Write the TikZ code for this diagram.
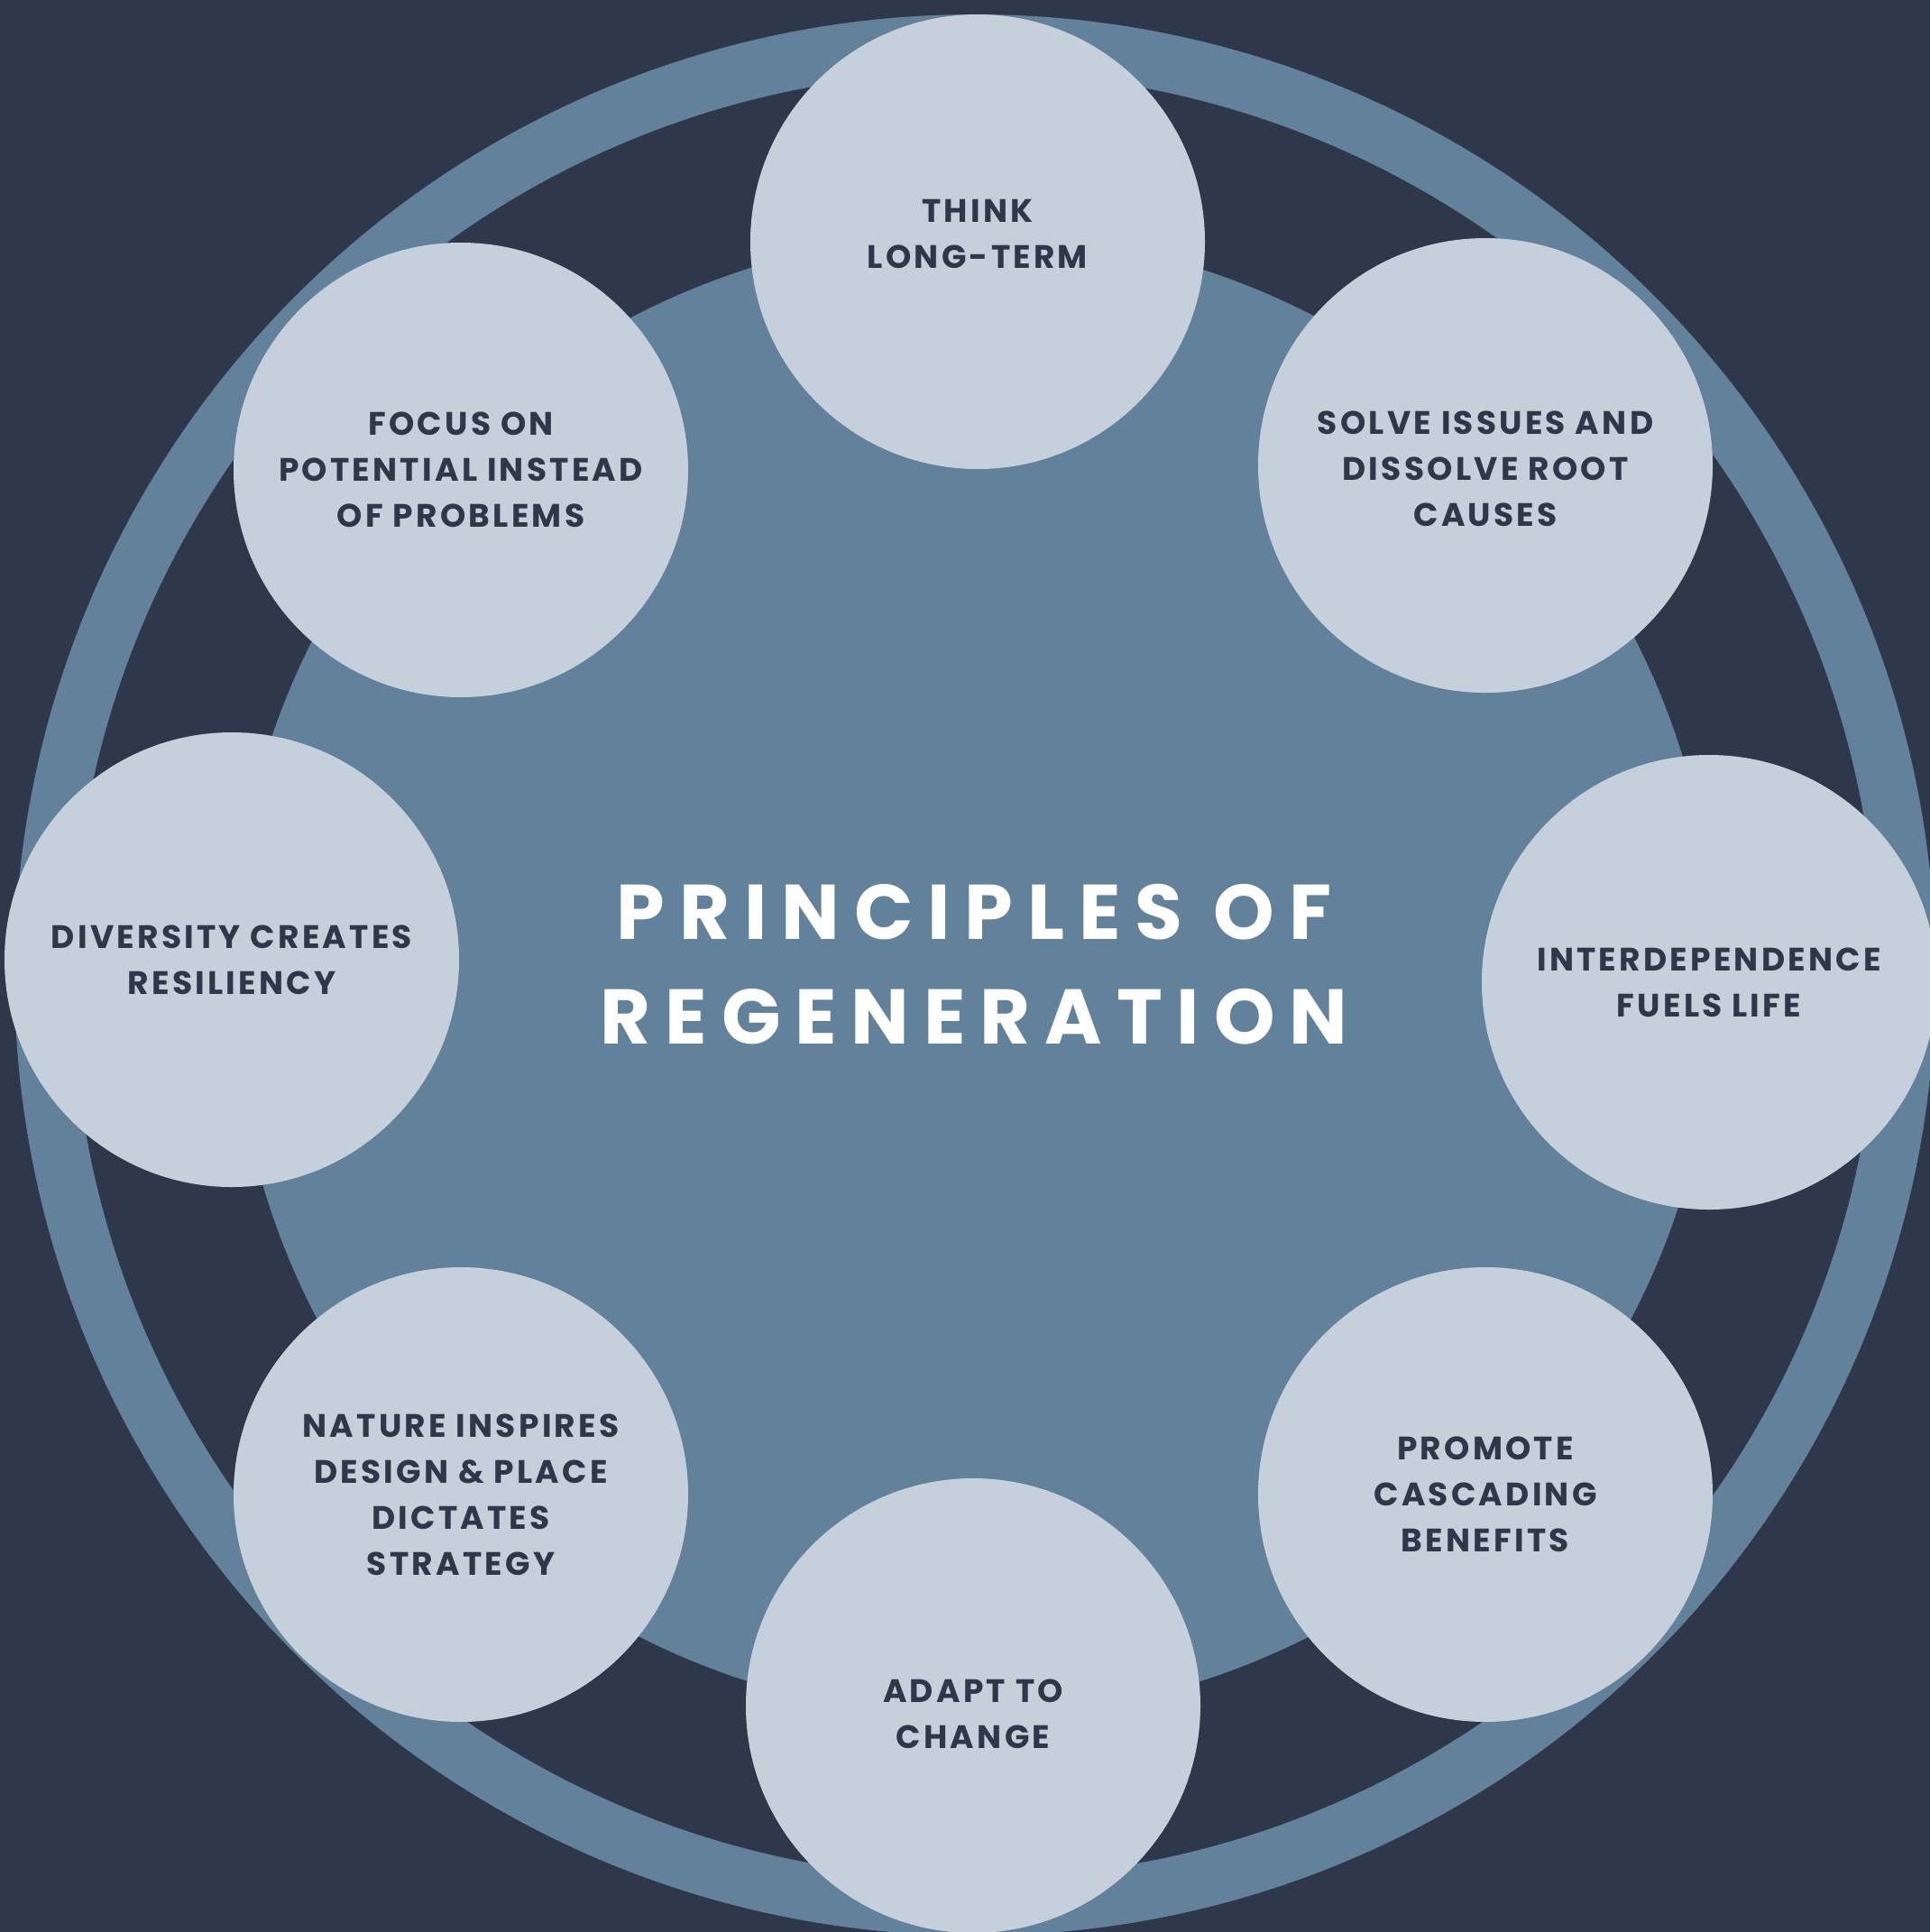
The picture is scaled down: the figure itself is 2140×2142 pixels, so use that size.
\documentclass[tikz,border=0pt]{standalone}
\usepackage{fontspec}
\newfontfamily\bubblefont{Poppins}[LetterSpace=9]
\newfontfamily\titlefont{Poppins}[LetterSpace=18.5]
\definecolor{navy}{HTML}{2F384A}
\definecolor{slate}{HTML}{62819B}
\definecolor{pale}{HTML}{C6D0DA}
\tikzset{
  bubble/.style={circle, fill=pale, minimum size=504pt, inner sep=0pt},
  btext/.style={align=center, inner sep=0pt,
    text=navy, font=\bubblefont\bfseries\fontsize{36}{51}\selectfont},
  titletext/.style={align=center, text=white, inner sep=0pt,
    font=\titlefont\bfseries\fontsize{86}{116}\selectfont}
}
\begin{document}
\begin{tikzpicture}[x=1pt,y=-1pt]
\useasboundingbox (0,0) rectangle (2140,2142);
\fill[navy] (0,0) rectangle (2140,2142);
\fill[slate] (1081,1081) circle[radius=1065pt];
\fill[navy] (1081,1081) circle[radius=1001pt];
\fill[slate] (1080,1081) circle[radius=822pt];
\node[bubble] (think) at (1084,268) {};
\node[bubble] (solve) at (1647,516) {};
\node[bubble] (inter) at (1895,1089) {};
\node[bubble] (promote) at (1647,1657) {};
\node[bubble] (adapt) at (1079,1891) {};
\node[bubble] (nature) at (511,1657) {};
\node[bubble] (diversity) at (257,1064) {};
\node[bubble] (focus) at (511,521) {};
\node[btext] (think-t) at ([yshift=9pt]think.center) {THINK\\LONG-TERM};
\node[btext] (solve-t) at ([yshift=-4pt]solve.center) {SOLVE ISSUES AND\\DISSOLVE ROOT\\CAUSES};
\node[btext] (inter-t) at (inter.center) {INTERDEPENDENCE\\FUELS LIFE};
\node[btext] (promote-t) at (promote.center) {PROMOTE\\CASCADING\\BENEFITS};
\node[btext] (adapt-t) at ([yshift=-9pt]adapt.center) {ADAPT TO\\CHANGE};
\node[btext] (nature-t) at (nature.center) {NATURE INSPIRES\\DESIGN \& PLACE\\DICTATES\\STRATEGY};
\node[btext] (diversity-t) at (diversity.center) {DIVERSITY CREATES\\RESILIENCY};
\node[btext] (focus-t) at (focus.center) {FOCUS ON\\POTENTIAL INSTEAD\\OF PROBLEMS};
\node[titletext] (title) at (1080,1069) {PRINCIPLES OF\\REGENERATION};
\end{tikzpicture}
\end{document}
